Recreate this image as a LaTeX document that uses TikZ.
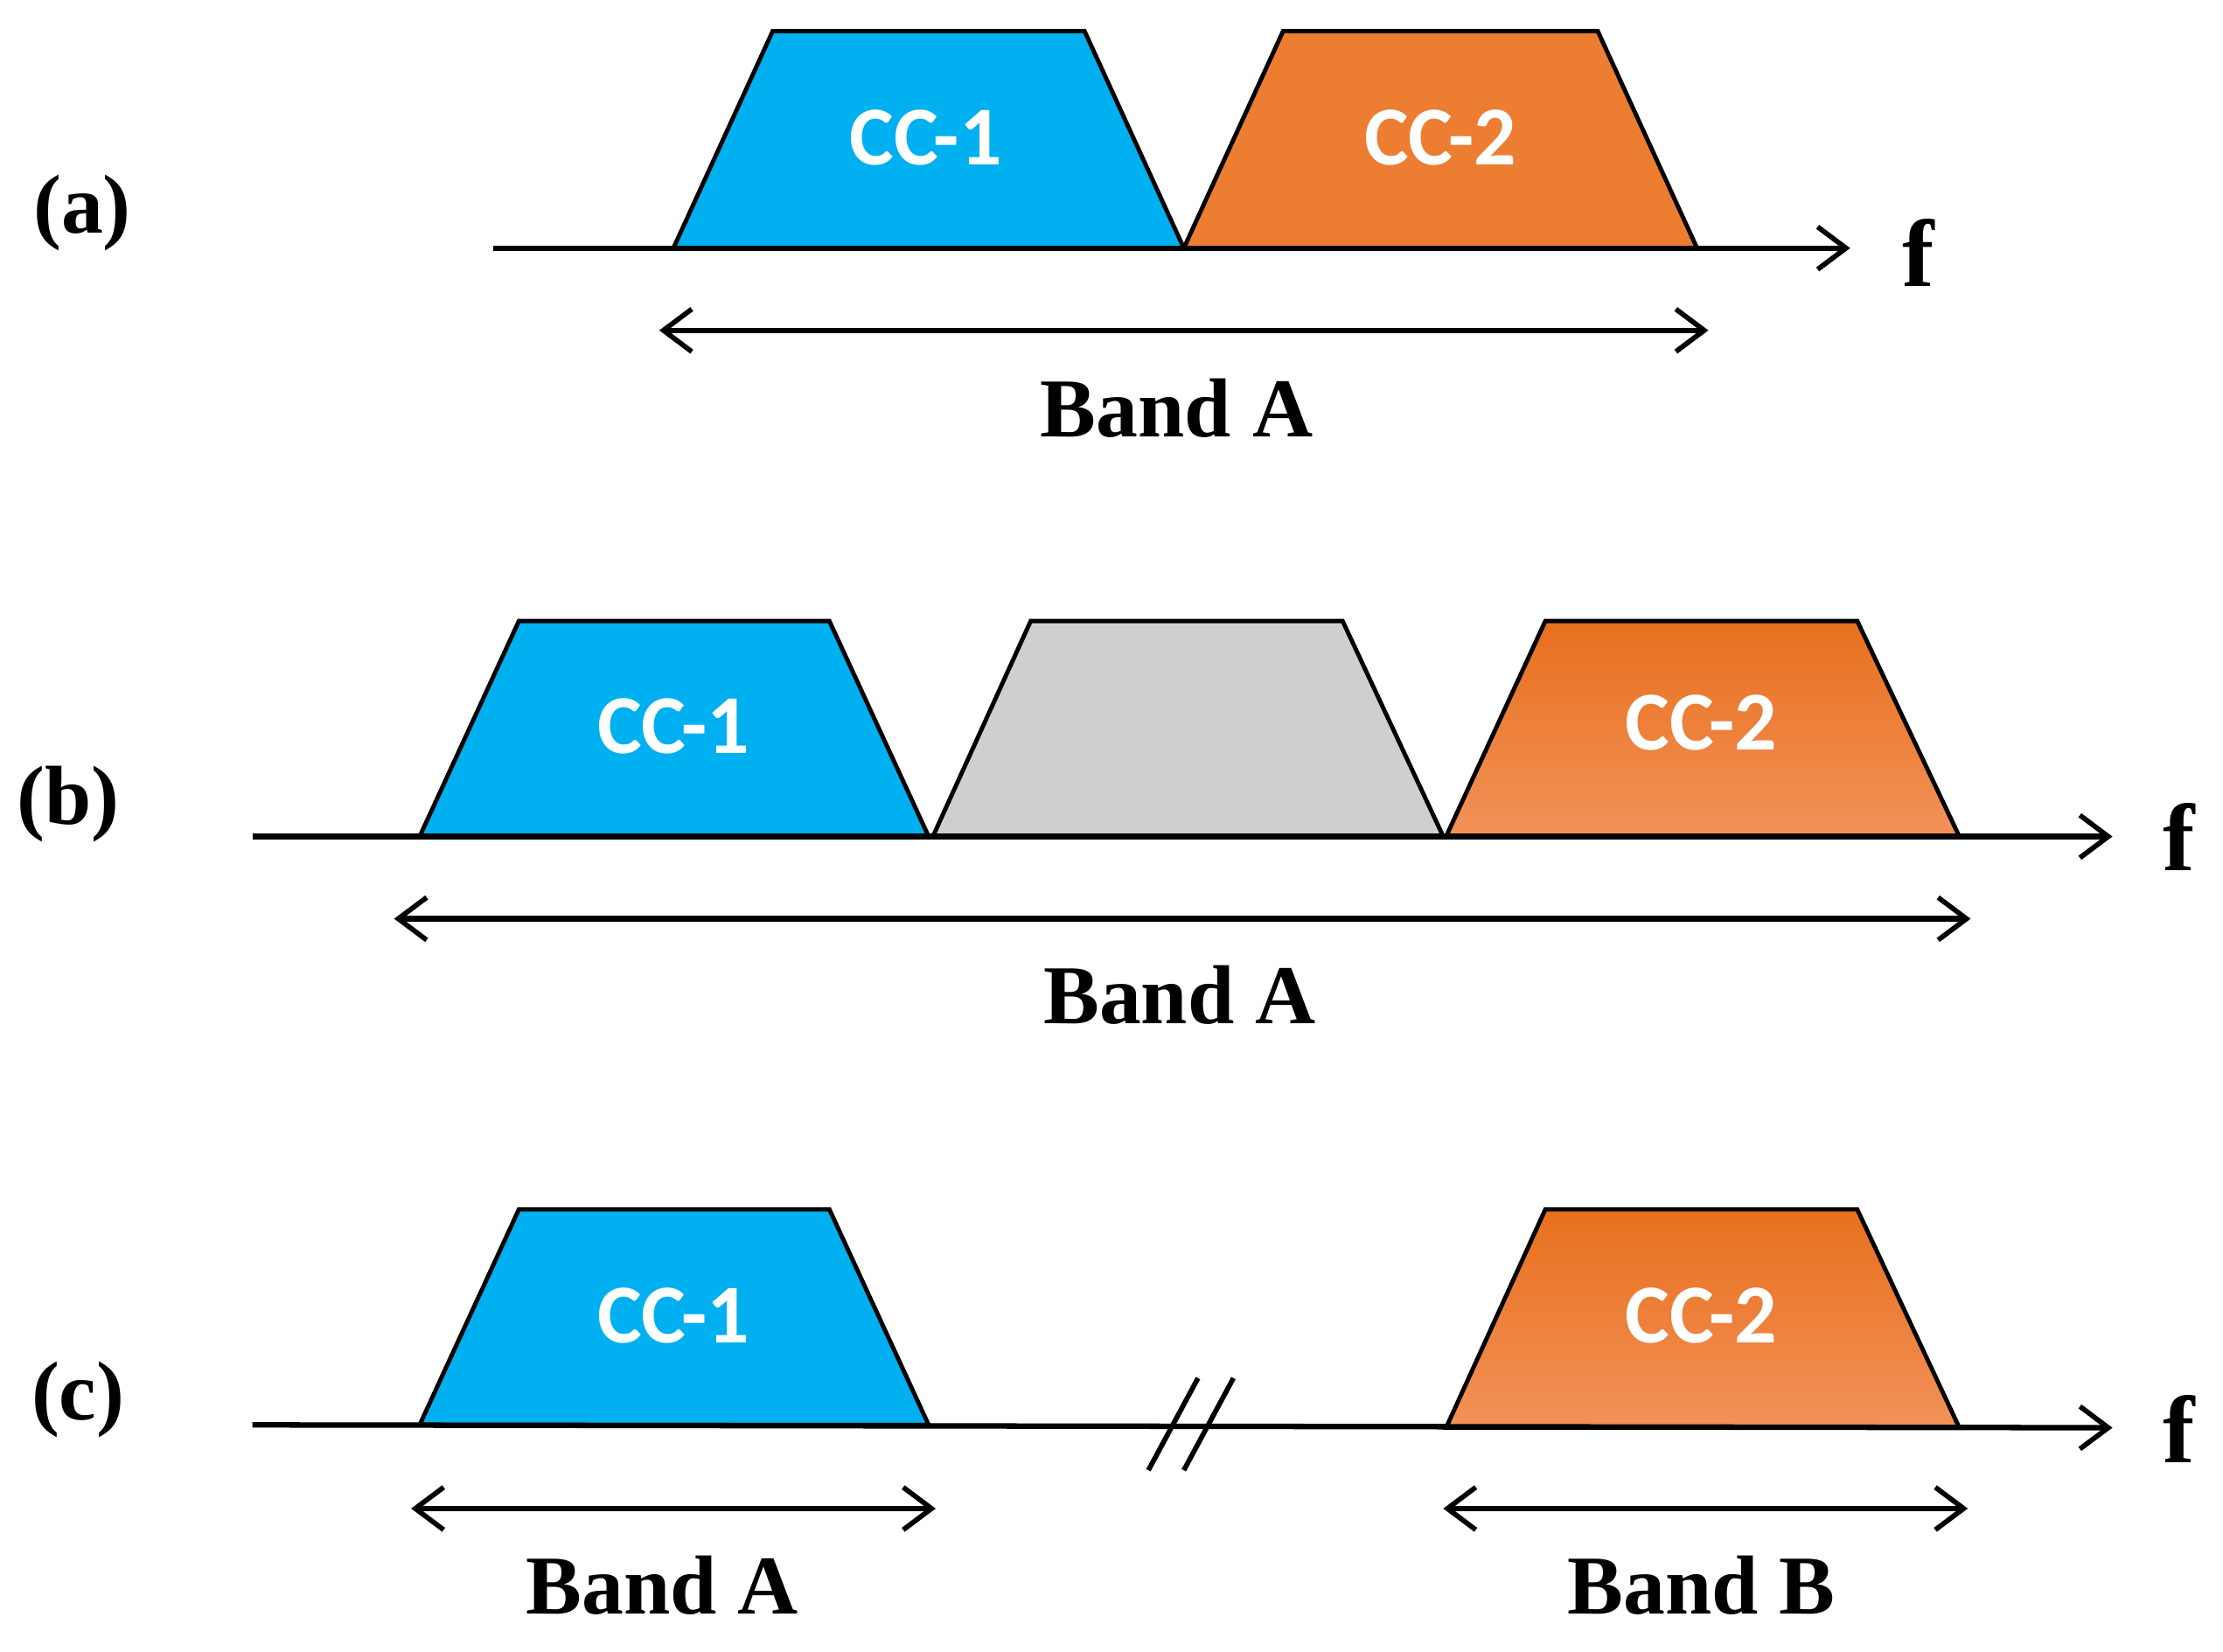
\documentclass[tikz,border=0pt]{standalone}
\usepackage{fontspec}
\setmainfont{Liberation Serif}
\newfontfamily\carlitofont{Carlito}
\usetikzlibrary{arrows.meta}
\definecolor{ccblue}{HTML}{00B0F0}
\definecolor{ccorg}{HTML}{ED7D31}
\definecolor{orgtop}{HTML}{E8701E}
\definecolor{orgbot}{HTML}{F29158}
\definecolor{ccgray}{HTML}{D0CECE}
\begin{document}
\begin{tikzpicture}[x=0.05cm,y=-0.05cm,
 tip/.style={-{Straight Barb[length=1cm,width=1.5cm,line width=5pt]}},
 dtip/.style={{Straight Barb[length=1cm,width=1.5cm,line width=5pt]}-{Straight Barb[length=1cm,width=1.5cm,line width=5pt]}},
 ax/.style={line width=5.5pt},
 trap/.style={line width=4.3pt,line join=miter},
 cc/.style={text=white,font=\carlitofont\bfseries\fontsize{84}{90}\selectfont},
 lab/.style={font=\bfseries\fontsize{84}{90}\selectfont},
 f/.style={font=\bfseries\fontsize{96}{100}\selectfont}]
\useasboundingbox (0,0) rectangle (1568,1165);
% (a)
\draw[trap,fill=ccblue] (475,175)--(545,22)--(765,22)--(835,175)--cycle;
\draw[trap,fill=ccorg] (835,175)--(905,22)--(1127,22)--(1197,175)--cycle;
\coordinate (a0) at (348,175); \coordinate (a1) at (1305,175);
\draw[ax,tip] (a0)--(a1);
\node[cc] (a-c1) at (653,97) {CC-1};
\node[cc] (a-c2) at (1016,97) {CC-2};
\node[lab] (a-l) at (58,150) {(a)};
\node[f] (a-f) at (1353,178) {f};
\coordinate (ab0) at (465,233); \coordinate (ab1) at (1205,233);
\draw[ax,dtip] (ab0)--(ab1);
\node[lab] (a-b) at (830,288) {Band A};
% (b)
\draw[trap,fill=ccblue] (296,590)--(366,438)--(585,438)--(655,590)--cycle;
\draw[trap,fill=ccgray] (658,590)--(727,438)--(947,438)--(1018,590)--cycle;
\draw[trap,top color=orgtop,bottom color=orgbot] (1020,590)--(1090,438)--(1310,438)--(1382,590)--cycle;
\coordinate (b0) at (178,590); \coordinate (b1) at (1490,590);
\draw[ax,tip] (b0)--(b1);
\node[cc] (b-c1) at (475,512) {CC-1};
\node[cc] (b-c2) at (1200,510) {CC-2};
\node[lab] (b-l) at (48,567) {(b)};
\node[f] (b-f) at (1537,590) {f};
\coordinate (bb0) at (278,648); \coordinate (bb1) at (1390,648);
\draw[ax,dtip] (bb0)--(bb1);
\node[lab] (b-b) at (832,702) {Band A};
% (c)
\draw[trap,fill=ccblue] (296,1005)--(366,853)--(585,853)--(655,1005)--cycle;
\draw[trap,top color=orgtop,bottom color=orgbot] (1020,1007)--(1090,853)--(1310,853)--(1382,1007)--cycle;
\coordinate (c0) at (178,1005); \coordinate (c1) at (1490,1007);
\draw[ax,tip] (c0)--(c1);
\coordinate (s1a) at (810,1037); \coordinate (s1b) at (845,972);
\coordinate (s2a) at (835,1037); \coordinate (s2b) at (870,972);
\draw[line width=5pt] (s1a)--(s1b) (s2a)--(s2b);
\node[cc] (c-c1) at (475,928) {CC-1};
\node[cc] (c-c2) at (1200,928) {CC-2};
\node[lab] (c-l) at (55,987) {(c)};
\node[f] (c-f) at (1537,1008) {f};
\coordinate (cb0) at (290,1064); \coordinate (cb1) at (660,1064);
\coordinate (cb2) at (1018,1064); \coordinate (cb3) at (1388,1064);
\draw[ax,dtip] (cb0)--(cb1);
\draw[ax,dtip] (cb2)--(cb3);
\node[lab] (c-a) at (467,1118) {Band A};
\node[lab] (c-b) at (1200,1118) {Band B};
\end{tikzpicture}
\end{document}
